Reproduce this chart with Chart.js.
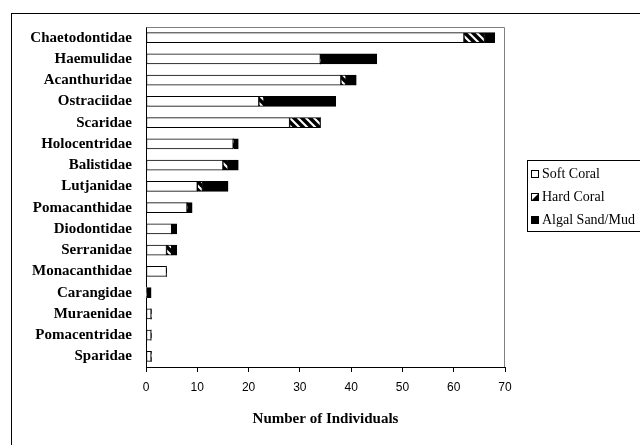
<!DOCTYPE html>
<html>
<head>
<meta charset="utf-8">
<script src="https://cdn.jsdelivr.net/npm/chart.js@4"></script>
<style>
  html, body { margin: 0; padding: 0; background: #fff; }
  canvas { display: block; }
</style>
</head>
<body>
<canvas id="fishChart" width="640" height="445"></canvas>
<script>
// families, top to bottom
const families = [
  'Chaetodontidae', 'Haemulidae', 'Acanthuridae', 'Ostraciidae', 'Scaridae',
  'Holocentridae', 'Balistidae', 'Lutjanidae', 'Pomacanthidae', 'Diodontidae',
  'Serranidae', 'Monacanthidae', 'Carangidae', 'Muraenidae', 'Pomacentridae', 'Sparidae'
];
const softCoral    = [62, 34, 38, 22, 28, 17, 15, 10, 8, 5, 4, 4, 0, 1, 1, 1];
const hardCoral    = [4, 0, 1, 1, 6, 0, 1, 1, 0, 0, 1, 0, 0, 0, 0, 0];
const algalSandMud = [2, 11, 2, 14, 0, 1, 2, 5, 1, 1, 1, 0, 1, 0, 0, 0];
const xTicks = [0, 10, 20, 30, 40, 50, 60, 70];

const serif = "'Liberation Serif', 'Times New Roman', serif";
const sans = "'Liberation Sans', Arial, sans-serif";

// diagonal hatch like the Excel "wide downward diagonal"
function makeHatch() {
  const c = document.createElement('canvas');
  c.width = 8; c.height = 8;
  const g = c.getContext('2d');
  g.fillStyle = '#fff';
  g.fillRect(0, 0, 8, 8);
  g.strokeStyle = '#000';
  g.lineWidth = 3.5;
  g.beginPath();
  g.moveTo(-2, -2); g.lineTo(10, 10);
  g.moveTo(-2, 6); g.lineTo(2, 10);
  g.moveTo(6, -2); g.lineTo(10, 2);
  g.stroke();
  return g.createPattern(c, 'repeat');
}
const hatch = makeHatch();

const seriesStyle = (label, data, fill) => ({
  label,
  data,
  backgroundColor: fill,
  borderColor: '#000',
  borderWidth: ctx => (ctx.raw ? 1 : 0),
  borderSkipped: false,
  barThickness: 10
});

// outer frame, plot frame and the boxed legend
const framePlugin = {
  id: 'frame',
  beforeDatasetsDraw(chart) {
    const { ctx, chartArea: a } = chart;
    ctx.save();
    ctx.strokeStyle = '#808080';
    ctx.lineWidth = 1;
    ctx.beginPath();
    ctx.moveTo(Math.round(a.left) + 0.5, Math.round(a.top) + 0.5);
    ctx.lineTo(Math.round(a.right) - 0.5, Math.round(a.top) + 0.5);
    ctx.lineTo(Math.round(a.right) - 0.5, Math.round(a.bottom));
    ctx.stroke();
    ctx.restore();
  },
  afterDraw(chart) {
    const ctx = chart.ctx;
    ctx.save();
    ctx.strokeStyle = '#000';
    ctx.lineWidth = 1;
    ctx.strokeRect(11.5, 13.5, 700, 500);

    // legend
    ctx.strokeRect(527.5, 160.5, 140, 71);
    const items = [
      { text: 'Soft Coral', y: 174, kind: 'soft' },
      { text: 'Hard Coral', y: 197, kind: 'hard' },
      { text: 'Algal Sand/Mud', y: 220, kind: 'algal' }
    ];
    ctx.font = '14px ' + serif;
    ctx.textBaseline = 'middle';
    ctx.fillStyle = '#000';
    items.forEach(it => {
      const x = 531, y = it.y - 4;
      if (it.kind === 'algal') {
        ctx.fillStyle = '#000';
        ctx.fillRect(x, y, 8, 8);
      } else {
        ctx.fillStyle = '#fff';
        ctx.fillRect(x, y, 8, 8);
        if (it.kind === 'hard') {
          ctx.fillStyle = '#000';
          ctx.beginPath();
          ctx.moveTo(x + 8, y);
          ctx.lineTo(x + 8, y + 8);
          ctx.lineTo(x, y + 8);
          ctx.closePath();
          ctx.fill();
        }
        ctx.strokeRect(x + 0.5, y + 0.5, 7, 7);
      }
      ctx.fillStyle = '#000';
      ctx.fillText(it.text, 542, it.y);
    });
    ctx.restore();
  }
};

new Chart(document.getElementById('fishChart'), {
  type: 'bar',
  data: {
    labels: families,
    datasets: [
      seriesStyle('Soft Coral', softCoral, '#fff'),
      seriesStyle('Hard Coral', hardCoral, hatch),
      seriesStyle('Algal Sand/Mud', algalSandMud, '#000')
    ]
  },
  options: {
    indexAxis: 'y',
    responsive: false,
    animation: false,
    layout: { padding: { top: 27, right: 135, bottom: 13, left: 0 } },
    plugins: {
      legend: { display: false },
      tooltip: { enabled: false }
    },
    scales: {
      x: {
        stacked: true,
        min: 0,
        max: 70,
        afterBuildTicks: scale => { scale.ticks = xTicks.map(v => ({ value: v })); },
        afterFit: scale => { scale.height = 65; },
        grid: { drawOnChartArea: false, drawTicks: true, tickLength: 5, tickColor: '#000' },
        border: { display: true, color: '#000', width: 1 },
        ticks: { color: '#000', font: { family: sans, size: 12 }, padding: 8, maxRotation: 0 },
        title: {
          display: true,
          text: 'Number of Individuals',
          color: '#000',
          font: { family: serif, size: 15, weight: 'bold' },
          padding: { top: 4, bottom: 4 }
        }
      },
      y: {
        stacked: true,
        afterFit: scale => { scale.width = 146; },
        grid: { display: false, drawTicks: false },
        border: { display: true, color: '#000', width: 1 },
        ticks: { color: '#000', font: { family: serif, size: 15, weight: 'bold' }, padding: 14, autoSkip: false }
      }
    }
  },
  plugins: [framePlugin]
});
</script>
</body>
</html>
